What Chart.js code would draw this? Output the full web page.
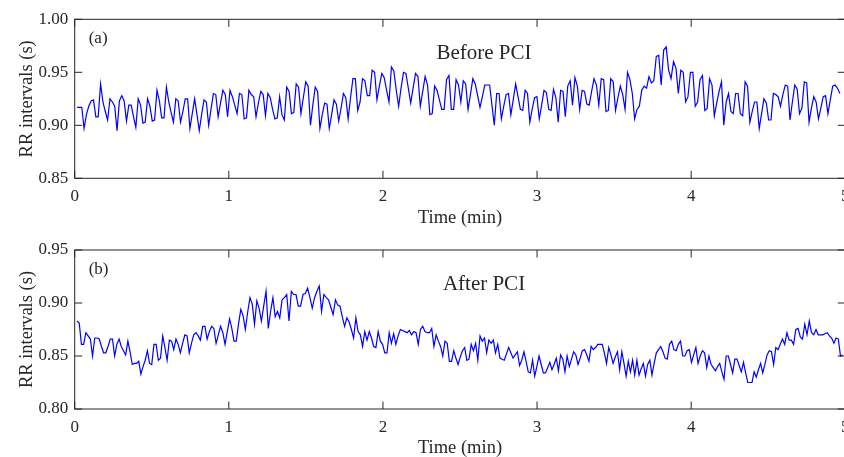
<!DOCTYPE html>
<html>
<head>
<meta charset="utf-8">
<script src="https://cdn.jsdelivr.net/npm/chart.js@4.4.0/dist/chart.umd.min.js"></script>
<style>
html, body { margin: 0; padding: 0; background: #fff; overflow: hidden; width: 844px; height: 457px; }
.panel { position: absolute; left: 0; }
#panelA { top: 0; }
#panelB { top: 230px; }
</style>
</head>
<body>
<canvas id="panelA" class="panel" width="846" height="230"></canvas>
<canvas id="panelB" class="panel" width="846" height="230"></canvas>
<script>
// RR intervals (s), beat by beat
const rr_before = [
  0.917,0.917,0.917,0.897,0.910,0.918,0.923,0.924,0.908,0.908,
  0.939,0.922,0.913,0.905,0.925,0.922,0.918,0.895,0.923,0.928,
  0.923,0.904,0.919,0.919,0.908,0.898,0.925,0.919,0.902,0.903,
  0.925,0.918,0.904,0.905,0.933,0.923,0.907,0.907,0.936,0.922,
  0.912,0.903,0.925,0.923,0.903,0.913,0.925,0.925,0.897,0.911,
  0.925,0.910,0.895,0.910,0.924,0.922,0.900,0.915,0.930,0.929,
  0.908,0.921,0.933,0.929,0.908,0.933,0.927,0.919,0.911,0.930,
  0.929,0.906,0.907,0.933,0.929,0.927,0.908,0.921,0.932,0.929,
  0.909,
  0.930,0.926,0.915,0.906,0.907,0.927,0.910,0.905,0.936,0.932,
  0.911,0.912,0.939,0.936,0.911,0.926,0.941,0.937,0.900,0.919,
  0.936,0.932,0.897,0.910,0.921,0.920,0.897,0.910,0.924,0.920,
  0.904,0.916,0.930,0.926,0.906,0.926,0.944,0.944,0.914,0.922,
  0.944,0.942,0.928,0.928,0.952,0.950,0.924,0.937,0.949,0.945,
  0.933,0.922,0.955,0.951,0.933,0.918,0.935,0.950,0.949,0.935,
  0.921,0.935,0.949,0.946,0.918,0.932,0.946,0.938,0.910,0.911,
  0.937,0.933,0.924,0.915,0.915,0.943,0.947,0.915,0.915,0.943,
  0.938,0.922,
  0.942,0.939,0.915,0.929,0.944,0.939,0.928,0.917,0.927,0.938,
  0.938,0.938,0.919,0.900,0.930,0.930,0.906,0.918,0.929,0.930,
  0.910,0.924,0.939,0.927,0.915,0.914,0.933,0.930,0.903,0.915,
  0.926,0.927,0.906,0.919,0.933,0.931,0.915,0.914,0.934,0.926,
  0.903,0.933,0.932,0.908,0.937,0.942,0.919,0.945,0.937,0.915,
  0.933,0.932,0.920,0.919,0.932,0.944,0.938,0.919,0.944,0.943,
  0.913,0.914,0.944,0.941,0.914,0.926,0.937,0.929,0.915,0.950,
  0.943,0.930,0.906,0.915,0.918,0.933,0.937,0.935,0.946,0.940,
  0.942,0.965,0.966,0.938,0.971,0.974,0.952,0.944,0.960,0.954,
  0.930,0.952,0.950,0.922,0.927,0.950,0.950,0.918,0.922,0.943,
  0.947,0.914,0.916,0.944,0.938,0.909,0.921,0.932,0.941,0.900,
  0.922,0.930,0.913,0.911,0.930,0.930,0.911,0.909,0.941,0.937,
  0.903,0.913,0.922,0.922,0.897,0.911,0.925,0.921,0.905,0.905,
  0.930,0.929,0.927,0.918,0.929,0.938,0.937,0.905,0.922,0.938,
  0.934,0.911,0.916,0.941,0.940,0.903,0.916,0.927,0.922,0.906,
  0.916,0.927,0.928,0.911,0.924,0.937,0.938,0.935,0.930
];

const rr_after = [
  0.883,0.881,0.861,0.861,0.872,0.869,0.866,0.850,0.867,0.867,
  0.866,0.859,0.853,0.853,0.859,0.866,0.866,0.850,0.861,0.866,
  0.859,0.855,0.851,0.864,0.854,0.842,0.843,0.843,0.845,0.833,
  0.840,0.846,0.855,0.843,0.842,0.861,0.861,0.846,0.848,0.869,
  0.858,0.846,0.865,0.864,0.856,0.866,0.861,0.853,0.862,0.870,
  0.869,0.853,0.862,0.870,0.872,0.869,0.865,0.878,0.878,0.866,
  0.873,0.878,0.876,0.862,0.870,0.878,0.872,0.861,0.873,0.885,
  0.876,0.864,0.864,0.880,0.894,0.888,0.875,0.891,0.905,0.899,
  0.880,0.902,0.895,0.883,0.897,0.911,
  0.876,0.892,0.905,0.887,0.892,0.886,0.903,0.905,0.908,0.883,
  0.911,0.908,0.908,0.897,0.897,0.908,0.909,0.914,0.905,0.895,
  0.905,0.911,0.916,0.892,0.908,0.905,0.903,0.896,0.889,0.903,
  0.898,0.897,0.887,0.878,0.886,0.882,0.875,0.867,0.886,0.873,
  0.870,0.859,0.873,0.865,0.873,0.867,0.859,0.858,0.873,0.864,
  0.861,0.853,0.853,0.872,0.862,0.871,0.861,0.869,0.875,0.874,
  0.873,0.872,0.874,0.870,0.873,0.872,0.861,0.875,0.878,0.873,
  0.872,0.872,0.876,0.859,0.870,0.864,0.859,0.850,0.864,0.862,
  0.845,0.845,0.855,0.848,0.842,0.849,0.855,
  0.858,0.846,0.847,0.861,0.855,0.862,0.846,0.869,0.864,0.867,
  0.853,0.865,0.862,0.865,0.853,0.861,0.848,0.847,0.846,0.852,
  0.858,0.853,0.848,0.851,0.854,0.841,0.846,0.854,0.845,0.835,
  0.834,0.846,0.831,0.840,0.850,0.842,0.834,0.834,0.839,0.844,
  0.837,0.842,0.848,0.836,0.851,0.847,0.835,0.850,0.840,0.847,
  0.854,0.851,0.842,0.848,0.855,0.856,0.851,0.845,0.859,0.856,
  0.858,0.861,0.861,0.861,0.853,0.843,0.858,0.851,0.843,0.849,
  0.854,0.837,0.854,0.843,0.831,0.845,0.835,0.846,0.832,0.846,
  0.832,0.838,0.843,0.831,0.842,0.846,0.832,0.843,0.853,
  0.856,0.859,0.854,0.848,0.847,0.861,0.864,0.856,0.855,0.861,
  0.864,0.850,0.850,0.855,0.856,0.844,0.851,0.858,0.843,0.850,
  0.855,0.853,0.839,0.850,0.842,0.839,0.836,0.840,0.843,0.835,
  0.828,0.850,0.850,0.842,0.834,0.847,0.847,0.841,0.835,0.844,
  0.834,0.825,0.825,0.825,0.835,0.830,0.837,0.843,0.834,0.842,
  0.851,0.855,0.854,0.842,0.858,0.856,0.861,0.866,0.861,0.872,
  0.865,0.865,0.861,0.875,0.876,0.868,0.866,0.880,0.870,0.883,
  0.872,0.870,0.875,0.870,0.870,0.870,0.871,0.872,0.869,0.867,
  0.862,0.867,0.866,0.850,0.851
];

const x_ticks = [0, 1, 2, 3, 4, 5];
const y_ticks_before = [0.85, 0.90, 0.95, 1.00];
const y_ticks_after = [0.80, 0.85, 0.90, 0.95];

const serif = '"Liberation Serif", "Times New Roman", serif';
const ink = '#262626';

// beat times (min) are the running sum of the RR intervals
function toPoints(rr) {
  let t = 0;
  return rr.map(v => {
    t += v / 60;
    return { x: t, y: v };
  });
}

// box round the plot with inward tick marks, plus the panel tag and title
const frame = {
  id: 'frame',
  afterDraw(chart, args, opts) {
    const { ctx, chartArea: a, scales } = chart;
    const len = 7.5;
    ctx.save();
    ctx.strokeStyle = ink;
    ctx.lineWidth = 1;
    ctx.strokeRect(a.left, a.top, a.right - a.left, a.bottom - a.top);
    ctx.beginPath();
    scales.x.ticks.forEach(t => {
      const px = scales.x.getPixelForValue(t.value);
      ctx.moveTo(px, a.bottom); ctx.lineTo(px, a.bottom - len);
      ctx.moveTo(px, a.top); ctx.lineTo(px, a.top + len);
    });
    scales.y.ticks.forEach(t => {
      const py = scales.y.getPixelForValue(t.value);
      ctx.moveTo(a.left, py); ctx.lineTo(a.left + len, py);
      ctx.moveTo(a.right, py); ctx.lineTo(a.right - len, py);
    });
    ctx.stroke();

    ctx.fillStyle = ink;
    ctx.textBaseline = 'alphabetic';
    ctx.textAlign = 'left';
    ctx.font = '17px ' + serif;
    ctx.fillText(opts.tag, a.left + 14, a.top + 24);
    ctx.textAlign = 'center';
    ctx.font = '21px ' + serif;
    ctx.fillText(opts.title, 484, a.top + 40);
    ctx.restore();
  }
};

function makePanel(id, rr, yTicks, tag, title, padTop, xHeight) {
  return new Chart(document.getElementById(id), {
    type: 'line',
    data: {
      datasets: [{
        data: toPoints(rr),
        borderColor: '#0000ff',
        borderWidth: 1.2,
        pointRadius: 0,
        tension: 0,
        fill: false
      }]
    },
    options: {
      responsive: false,
      animation: false,
      devicePixelRatio: 1,
      layout: { padding: { top: padTop, left: 0, right: 0.7, bottom: 0 } },
      plugins: {
        legend: { display: false },
        tooltip: { enabled: false },
        frame: { tag: tag, title: title }
      },
      scales: {
        x: {
          type: 'linear',
          min: 0,
          max: 5,
          afterBuildTicks: s => { s.ticks = x_ticks.map(v => ({ value: v })); },
          afterFit: s => { s.height = xHeight; s.paddingLeft = 0; s.paddingRight = 0; },
          grid: { display: false, drawTicks: false },
          border: { display: false },
          ticks: {
            color: ink,
            font: { family: serif, size: 17 },
            padding: 8,
            maxRotation: 0,
            autoSkip: false,
            callback: v => String(v)
          },
          title: {
            display: true,
            text: 'Time (min)',
            color: ink,
            font: { family: serif, size: 18.5 },
            padding: { top: 0, bottom: 0.5 }
          }
        },
        y: {
          min: yTicks[0],
          max: yTicks[yTicks.length - 1],
          afterBuildTicks: s => { s.ticks = yTicks.map(v => ({ value: v })); },
          afterFit: s => { s.width = 74.7; s.paddingTop = 0; s.paddingBottom = 0; },
          grid: { display: false, drawTicks: false },
          border: { display: false },
          ticks: {
            color: ink,
            font: { family: serif, size: 17 },
            padding: 6.4,
            callback: v => v.toFixed(2)
          },
          title: {
            display: true,
            text: 'RR intervals (s)',
            color: ink,
            font: { family: serif, size: 18.5 },
            padding: { top: 16, bottom: 0 }
          }
        }
      }
    },
    plugins: [frame]
  });
}

makePanel('panelA', rr_before, y_ticks_before, '(a)', 'Before PCI', 19.3, 51.7);
makePanel('panelB', rr_after, y_ticks_after, '(b)', 'After PCI', 20, 51);
</script>
</body>
</html>
